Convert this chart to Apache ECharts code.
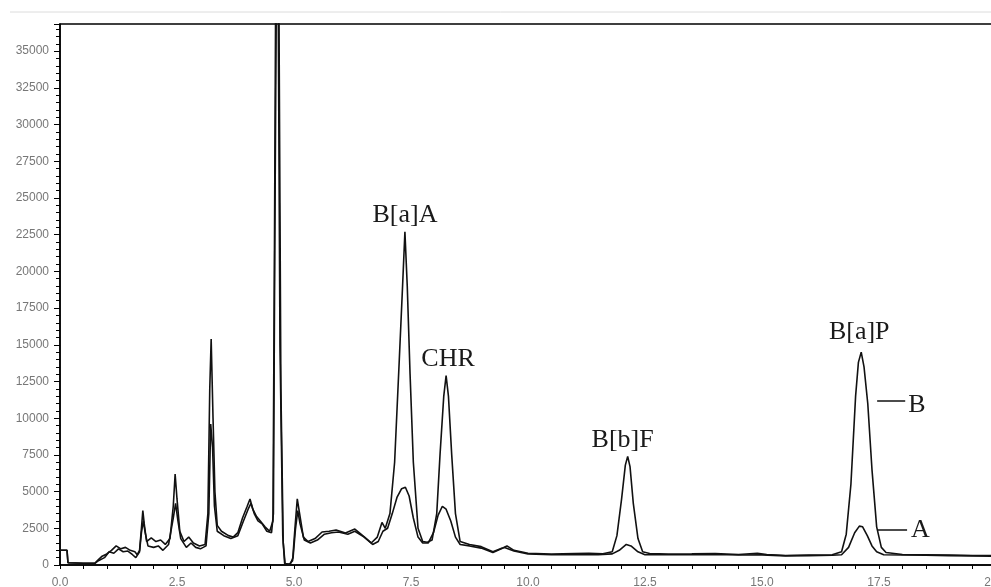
<!DOCTYPE html>
<html>
<head>
<meta charset="utf-8">
<script src="https://cdn.jsdelivr.net/npm/echarts/dist/echarts.min.js"></script>
<style>
  html, body { margin: 0; padding: 0; background: #fff; }
  #chart { width: 991px; height: 587px; }
</style>
</head>
<body>
<div id="chart"></div>
<script>
// Chromatogram trace B (spiked sample): retention time (min) and detector signal
const timesB = [0, 0.15, 0.17, 0.5, 0.75, 0.8, 0.9, 1.0, 1.1, 1.2,
  1.3, 1.4, 1.5, 1.6, 1.65, 1.7, 1.74, 1.77, 1.8, 1.85,
  1.95, 2.05, 2.15, 2.25, 2.35, 2.42, 2.46, 2.5, 2.56, 2.65,
  2.75, 2.85, 2.98, 3.1, 3.16, 3.2, 3.23, 3.27, 3.31, 3.36,
  3.45, 3.6, 3.7, 3.8, 3.9, 4.0, 4.06, 4.12, 4.2, 4.28,
  4.38, 4.48, 4.55, 4.58, 4.61, 4.66, 4.7, 4.76, 4.8, 4.9,
  4.97, 5.02, 5.07, 5.12, 5.2, 5.3, 5.45, 5.6, 5.75, 5.9,
  6.1, 6.3, 6.45, 6.65, 6.78, 6.88, 6.95, 7.05, 7.15, 7.25,
  7.32, 7.37, 7.42, 7.48, 7.55, 7.65, 7.75, 7.85, 7.95, 8.05,
  8.12, 8.2, 8.25, 8.3, 8.37, 8.45, 8.55, 8.75, 9.0, 9.25,
  9.45, 9.55, 9.7, 10.0, 10.5, 11.0, 11.3, 11.6, 11.8, 11.9,
  12.0, 12.08, 12.13, 12.18, 12.25, 12.35, 12.45, 12.6, 13.0, 13.5,
  14.0, 14.5, 14.9, 15.1, 15.5, 16.0, 16.5, 16.7, 16.8, 16.9,
  17.0, 17.06, 17.12, 17.18, 17.26, 17.35, 17.45, 17.55, 17.65, 18.0,
  18.5, 19.0, 19.5, 20.0];
const signalB = [1000, 1000, 150, 120, 130, 300, 600, 750, 1000, 1300,
  1100, 1200, 1000, 900, 700, 1000, 2500, 3700, 2800, 1600,
  1850, 1600, 1700, 1400, 1800, 4000, 6200, 4500, 2300, 1600,
  1900, 1500, 1300, 1400, 3500, 12000, 15400, 10000, 5000, 2700,
  2300, 2000, 1900, 2200, 3200, 4000, 4500, 3800, 3300, 3000,
  2600, 2300, 3000, 20000, 40000, 40000, 15000, 2000, 100, 50,
  300, 2500, 4500, 3500, 1900, 1600, 1800, 2250, 2300, 2380,
  2180, 2450, 2050, 1500, 1900, 2900, 2500, 3500, 7000, 14000,
  19000, 22700, 19000, 13000, 7000, 2500, 1600, 1550, 1700, 3500,
  7500, 11500, 12900, 11500, 7500, 3500, 1600, 1400, 1250, 900,
  1150, 1300, 1000, 800, 750, 780, 800, 760, 900, 2000,
  4500, 6800, 7400, 6700, 4200, 1800, 900, 780, 750, 760,
  780, 720, 800, 720, 650, 680, 700, 900, 2100, 5500,
  11500, 13800, 14500, 13500, 11000, 6500, 2600, 1200, 850, 720,
  700, 680, 650, 640];

// Chromatogram trace A (blank sample)
const timesA = [0, 0.15, 0.17, 0.5, 0.75, 0.8, 0.95, 1.05, 1.15, 1.25,
  1.35, 1.45, 1.55, 1.62, 1.7, 1.74, 1.78, 1.82, 1.88, 2.0,
  2.1, 2.2, 2.32, 2.42, 2.47, 2.52, 2.58, 2.7, 2.8, 2.9,
  3.0, 3.12, 3.18, 3.22, 3.26, 3.3, 3.36, 3.5, 3.65, 3.8,
  3.92, 4.02, 4.08, 4.15, 4.23, 4.32, 4.42, 4.52, 4.56, 4.59,
  4.625, 4.675, 4.72, 4.77, 4.81, 4.92, 4.98, 5.03, 5.08, 5.13,
  5.22, 5.35, 5.5, 5.65, 5.8, 5.95, 6.15, 6.3, 6.5, 6.68,
  6.8, 6.9, 7.0, 7.1, 7.2, 7.3, 7.38, 7.46, 7.55, 7.65,
  7.75, 7.87, 7.98, 8.08, 8.17, 8.25, 8.35, 8.45, 8.55, 8.75,
  9.0, 9.25, 9.5, 9.7, 10.0, 10.5, 11.0, 11.5, 11.8, 11.95,
  12.1, 12.2, 12.35, 12.5, 13.0, 13.5, 14.0, 14.5, 15.0, 15.5,
  16.0, 16.5, 16.7, 16.85, 16.98, 17.08, 17.15, 17.25, 17.35, 17.45,
  17.6, 18.0, 18.5, 19.0, 19.5, 20.0];
const signalA = [1000, 1000, 150, 120, 130, 250, 500, 900, 800, 1100,
  900, 950, 700, 500, 900, 2200, 3000, 2200, 1300, 1200,
  1300, 1000, 1400, 3200, 4200, 3000, 1800, 1200, 1500, 1200,
  1100, 1300, 3500, 9600, 8000, 4000, 2300, 2000, 1800, 2000,
  3000, 3800, 4200, 3500, 3000, 2800, 2300, 2200, 3500, 22000,
  40000, 40000, 12000, 1500, 80, 60, 500, 2400, 3700, 2800,
  1700, 1500, 1700, 2100, 2200, 2250, 2100, 2300, 1900, 1400,
  1600, 2300, 2500, 3500, 4600, 5200, 5300, 4700, 3200, 1900,
  1500, 1500, 2200, 3400, 4000, 3800, 3000, 1900, 1400, 1300,
  1150, 850, 1200, 950, 750, 700, 720, 700, 760, 1000,
  1400, 1300, 900, 700, 700, 700, 720, 680, 690, 620,
  640, 660, 700, 1200, 2200, 2650, 2600, 2000, 1300, 900,
  700, 680, 660, 640, 620, 600];

// Identified compounds and their retention times on trace B
const peakNames = ['B[a]A', 'CHR', 'B[b]F', 'B[a]P'];
const peakTimes = [7.37, 8.25, 12.13, 17.12];

// Axis settings
const timeMax = 20;
const timeStep = 2.5;
const signalMax = 36850;
const signalStep = 2500;

const zip = (xs, ys) => xs.map((x, i) => [x, ys[i]]);
const traceB = zip(timesB, signalB);
const traceA = zip(timesA, signalA);
const peakPoints = peakTimes.map((t, i) => ({
  name: peakNames[i],
  value: [t, signalB[timesB.indexOf(t)]]
}));

// small horizontal nudges so each compound name sits over its peak
const labelShift = [[0, 0], [2, 0], [-5, 0], [-2, -3]];

const serifFont = '"Liberation Serif", "DejaVu Serif", serif';
const tickFont = '"Liberation Sans", Arial, sans-serif';
const ink = '#1a1a1a';
const lineStyle = { color: '#111', width: 1.6 };
const nameLabel = { fontFamily: serifFont, fontSize: 26, color: ink, textBorderWidth: 0, opacity: 1 };

const chart = echarts.init(document.getElementById('chart'), null, { renderer: 'canvas' });

chart.setOption({
  animation: false,
  backgroundColor: '#ffffff',
  grid: {
    left: 60, top: 24, width: 936, height: 541,
    containLabel: false, outerBoundsMode: 'none',
    show: true, borderColor: '#000', borderWidth: 1.5,
    backgroundColor: 'transparent'
  },
  xAxis: {
    type: 'value',
    min: 0, max: timeMax, interval: timeStep,
    axisLine: { show: true, lineStyle: { color: '#000', width: 1.5 } },
    axisTick: { show: true, length: 4, lineStyle: { color: '#000' } },
    minorTick: { show: true, splitNumber: 5, length: 4, lineStyle: { color: '#000' } },
    splitLine: { show: false },
    axisLabel: {
      margin: 12, color: '#777', fontSize: 12, fontFamily: tickFont,
      formatter: v => v.toFixed(1)
    }
  },
  yAxis: {
    type: 'value',
    min: 0, max: signalMax, interval: signalStep,
    axisLine: { show: true, lineStyle: { color: '#000', width: 1.5 } },
    axisTick: { show: true, length: 6, lineStyle: { color: '#000' } },
    minorTick: { show: true, splitNumber: 5, length: 4, lineStyle: { color: '#000' } },
    splitLine: { show: false },
    axisLabel: {
      margin: 11, color: '#777', fontSize: 12, fontFamily: tickFont,
      showMaxLabel: false,
      formatter: v => (v % signalStep === 0 ? String(v) : '')
    }
  },
  graphic: [{
    type: 'line', silent: true, z: -1,
    shape: { x1: 10, y1: 12, x2: 991, y2: 12 },
    style: { stroke: '#dcdcdc', lineWidth: 1 }
  }],
  series: [
    {
      name: 'B', type: 'line', data: traceB,
      showSymbol: false, symbol: 'none', clip: true,
      lineStyle: lineStyle, z: 3,
      markLine: {
        silent: true, symbol: ['none', 'none'], animation: false,
        lineStyle: { color: '#111', width: 1.5, type: 'solid' },
        label: Object.assign({
          show: true, position: 'end', distance: 3, formatter: 'B', offset: [0, 4]
        }, nameLabel),
        data: [[{ coord: [17.46, 11170] }, { coord: [18.06, 11170] }]]
      }
    },
    {
      name: 'A', type: 'line', data: traceA,
      showSymbol: false, symbol: 'none', clip: true,
      lineStyle: lineStyle, z: 2,
      markLine: {
        silent: true, symbol: ['none', 'none'], animation: false,
        lineStyle: { color: '#111', width: 1.5, type: 'solid' },
        label: Object.assign({
          show: true, position: 'end', distance: 4, formatter: 'A'
        }, nameLabel),
        data: [[{ coord: [17.46, 2380] }, { coord: [18.1, 2380] }]]
      }
    },
    {
      name: 'peaks', type: 'scatter', symbol: 'circle', symbolSize: 1,
      silent: true, z: 4,
      itemStyle: { color: 'rgba(0,0,0,0)' },
      emphasis: { disabled: true },
      data: peakPoints.map((p, i) => ({
        name: p.name, value: p.value,
        label: Object.assign({ offset: labelShift[i] }, nameLabel)
      })),
      label: Object.assign({
        show: true, position: 'top', distance: 3, formatter: '{b}'
      }, nameLabel)
    }
  ]
});
</script>
</body>
</html>
